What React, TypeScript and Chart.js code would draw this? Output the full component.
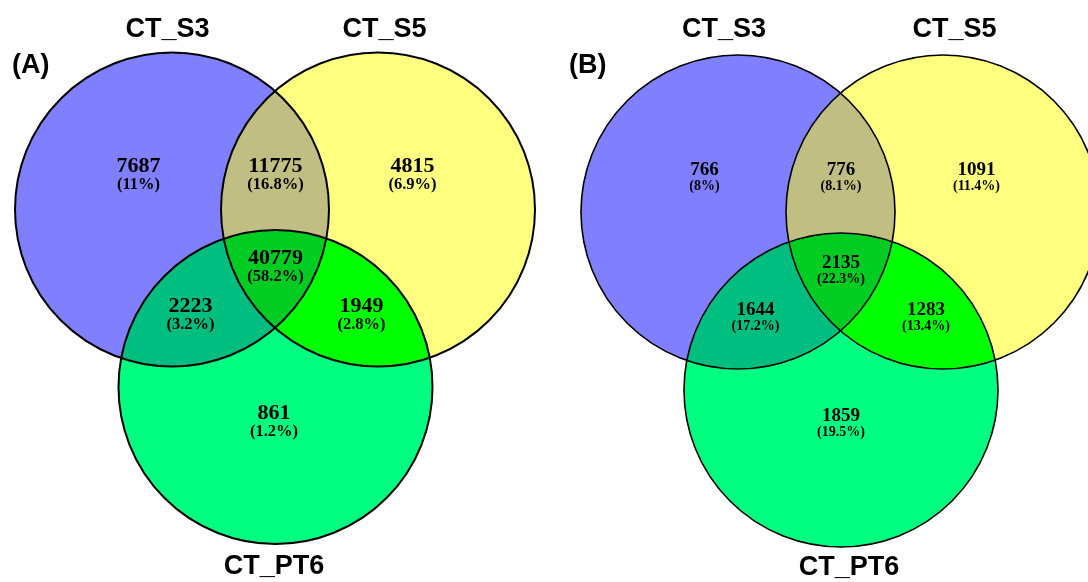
import React, { useEffect, useRef } from "react";
import { Chart, registerables } from "chart.js";

Chart.register(...registerables);

// ---- data ----
const setNames = ["CT_S3", "CT_S5", "CT_PT6"];
const panelLetters = ["(A)", "(B)"];
// region order: S3 only, S3∩S5, S5 only, S3∩S5∩PT6, S3∩PT6, S5∩PT6, PT6 only
const countsA = [7687, 11775, 4815, 40779, 2223, 1949, 861];
const pctA = ["11", "16.8", "6.9", "58.2", "3.2", "2.8", "1.2"];
const countsB = [766, 776, 1091, 2135, 1644, 1283, 1859];
const pctB = ["8", "8.1", "11.4", "22.3", "17.2", "13.4", "19.5"];

// ---- layout (data coordinates of the hidden scales) ----
const centersA = [[172, 209.5], [378, 209.5], [275.5, 387]];
const centersB = [[738, 212], [943, 212], [841, 390]];
const radiusX = 157;
const radiusY = 157;
const labelPosA = [[138.5, 166], [275.5, 166], [412.5, 166], [275.5, 258], [190.5, 306], [361.5, 306], [274, 413]];
const labelPosB = [[704.5, 170], [841, 170], [976.5, 170], [841, 263], [755.5, 310], [926, 310], [841, 416]];
const titlePosA = [[167.5, 30], [384.5, 30], [274, 567]];
const titlePosB = [[724, 30], [954.5, 30], [849, 568]];
const letterPos = [[12, 66], [569, 66]];

// ---- styles ----
const colBlue = "#8080FF";
const colYellow = "#FFFF80";
const colGreen = "#00FF80";
const colBY = "#C0BE82";
const colBG = "#00BE80";
const colYG = "#00FF00";
const colAll = "#00CC22";

const panels = [
  { counts: countsA, pct: pctA, centers: centersA, labels: labelPosA, titles: titlePosA, numFont: 22, pctFont: 16.5, pctOff: 19, lw: 2 },
  { counts: countsB, pct: pctB, centers: centersB, labels: labelPosB, titles: titlePosB, numFont: 19, pctFont: 14, pctOff: 16, lw: 1.6 },
];

const vennPlugin = {
  id: "venn",
  beforeDatasetsDraw(chart: any) {
    const ctx = chart.ctx;
    const xs = chart.scales.x;
    const ys = chart.scales.y;
    panels.forEach((p) => {
      const el = p.centers.map(([cx, cy]) => ({
        x: xs.getPixelForValue(cx),
        y: ys.getPixelForValue(cy),
        rx: Math.abs(xs.getPixelForValue(cx + radiusX) - xs.getPixelForValue(cx)),
        ry: Math.abs(ys.getPixelForValue(cy + radiusY) - ys.getPixelForValue(cy)),
      }));
      const path = (i: number) => {
        ctx.beginPath();
        ctx.ellipse(el[i].x, el[i].y, el[i].rx, el[i].ry, 0, 0, Math.PI * 2);
      };
      const fill = (i: number, color: string, clips: number[]) => {
        ctx.save();
        clips.forEach((c) => {
          path(c);
          ctx.clip();
        });
        path(i);
        ctx.fillStyle = color;
        ctx.fill();
        ctx.restore();
      };
      fill(0, colBlue, []);
      fill(1, colYellow, []);
      fill(2, colGreen, []);
      fill(1, colBY, [0]);
      fill(2, colBG, [0]);
      fill(2, colYG, [1]);
      fill(2, colAll, [0, 1]);
      ctx.save();
      ctx.strokeStyle = "#000";
      ctx.lineWidth = p.lw;
      [0, 1, 2].forEach((i) => {
        path(i);
        ctx.stroke();
      });
      ctx.restore();
    });
  },
  afterDatasetsDraw(chart: any) {
    const ctx = chart.ctx;
    const xs = chart.scales.x;
    const ys = chart.scales.y;
    ctx.save();
    ctx.fillStyle = "#000";
    ctx.textBaseline = "middle";
    panels.forEach((p, pi) => {
      const meta = chart.getDatasetMeta(pi);
      ctx.textAlign = "center";
      meta.data.forEach((pt: any, i: number) => {
        ctx.font = `bold ${p.numFont}px "Liberation Serif", "Times New Roman", serif`;
        ctx.fillText(String(p.counts[i]), pt.x, pt.y);
        ctx.font = `bold ${p.pctFont}px "Liberation Serif", "Times New Roman", serif`;
        ctx.fillText(`(${p.pct[i]}%)`, pt.x, pt.y + p.pctOff);
      });
      ctx.font = `bold 27px "Liberation Sans", Arial, sans-serif`;
      p.titles.forEach(([tx, ty], i) => {
        ctx.fillText(setNames[i], xs.getPixelForValue(tx), ys.getPixelForValue(ty));
      });
      ctx.textAlign = "left";
      ctx.fillText(panelLetters[pi], xs.getPixelForValue(letterPos[pi][0]), ys.getPixelForValue(letterPos[pi][1]));
    });
    ctx.restore();
  },
};

export default function App() {
  const ref = useRef<HTMLCanvasElement | null>(null);
  useEffect(() => {
    if (!ref.current) return;
    const chart = new Chart(ref.current, {
      type: "scatter",
      data: {
        datasets: panels.map((p, pi) => ({
          label: panelLetters[pi],
          data: p.labels.map(([x, y]) => ({ x, y })),
          pointRadius: 0,
          pointHoverRadius: 0,
          showLine: false,
        })),
      },
      options: {
        animation: false,
        responsive: false,
        maintainAspectRatio: false,
        layout: { padding: 0 },
        events: [],
        scales: {
          x: { type: "linear", min: 0, max: 1088, display: false },
          y: { type: "linear", min: 0, max: 582, reverse: true, display: false },
        },
        plugins: { legend: { display: false }, tooltip: { enabled: false }, title: { display: false } },
      },
      plugins: [vennPlugin],
    } as any);
    return () => chart.destroy();
  }, []);
  return (
    <div style={{ position: "fixed", left: 0, top: 0, width: 1088, height: 582, background: "#fff" }}>
      <canvas ref={ref} width={1088} height={582} style={{ display: "block" }} />
    </div>
  );
}
